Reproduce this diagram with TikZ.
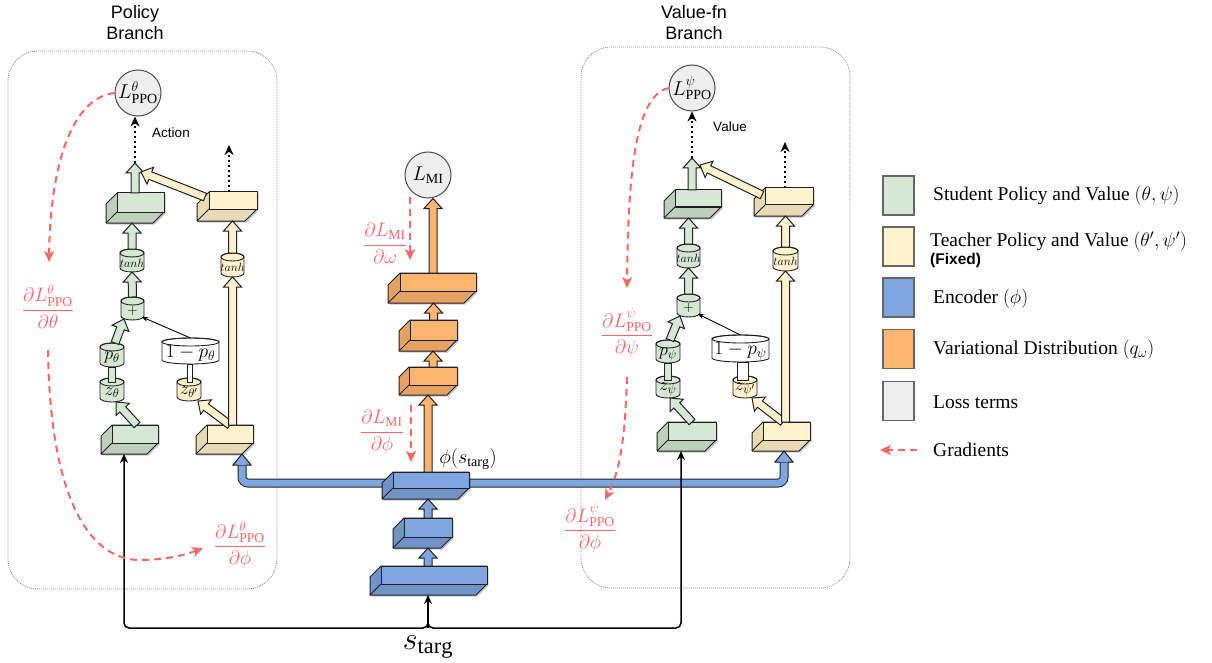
\RequirePackage{fix-cm}
\documentclass[tikz,border=0pt]{standalone}
\usepackage{fontspec}
\setmainfont{Liberation Serif}
\newfontfamily\sansfam{Liberation Sans}
\usetikzlibrary{arrows.meta,calc,fit}

\definecolor{grnL}{HTML}{D5E8D4}
\definecolor{grnD}{HTML}{BDD0BC}
\definecolor{ylwL}{HTML}{FFF2CC}
\definecolor{ylwD}{HTML}{E8DAB5}
\definecolor{bluL}{HTML}{7EA6E0}
\definecolor{bluD}{HTML}{7094C8}
\definecolor{orgL}{HTML}{FFB570}
\definecolor{orgD}{HTML}{E6A263}
\definecolor{lossF}{HTML}{EEEEEE}
\definecolor{gradR}{HTML}{FF6666}
\definecolor{edge}{HTML}{1F1F1F}

\tikzset{
  blockline/.style={draw=edge, line width=1pt, line join=miter},
  cylline/.style={draw=edge, line width=0.9pt},
  boxedge/.style={draw=edge, line width=1pt, line join=round},
  losscirc/.style={circle, draw=black!70, fill=lossF, line width=1pt, minimum size=46pt,
    inner sep=0pt, font=\fontsize{20}{22}\selectfont},
  dotarrow/.style={line width=2pt, dash pattern=on 2pt off 3pt, -{Stealth[length=10pt,width=9pt]}},
  gradarrow/.style={gradR, line width=2pt, dash pattern=on 7pt off 5pt,
    -{Stealth[length=11pt,width=10pt,inset=3pt]}},
  gradlabel/.style={text=gradR, inner sep=0pt, font=\fontsize{19.5}{22}\selectfont},
  inarrow/.style={line width=1.5pt, rounded corners=5pt, -{Stealth[length=9pt,width=8pt]}},
  thinarrow/.style={line width=0.9pt, -{Stealth[length=6pt,width=5pt]}},
  branchbox/.style={draw=black!45, line width=0.8pt, dash pattern=on 1pt off 1pt,
    rounded corners=30pt, inner sep=0pt},
  sanslabel/.style={font=\sansfam\fontsize{13.5}{16}\selectfont},
  titlelabel/.style={align=center, font=\sansfam\fontsize{18}{21}\selectfont},
  legsq/.style={draw=black!60, line width=1.2pt, minimum width=31pt, minimum height=39pt, inner sep=0pt},
  legtext/.style={anchor=west, inner sep=0pt, font=\fontsize{19.5}{22}\selectfont},
  cyllabel/.style={inner sep=0pt, font=\fontsize{18}{20}\selectfont},
}

% 3D layer block: back face (#2,#3)-(#4,#5), depth #6 towards lower left, colour stem #7
\newcommand\cubebox[7]{%
  \node[inner sep=0pt, outer sep=0pt, fit={(#2,#3) (#4,#5)}] (#1) {};
  \coordinate (#1-bot) at ({(#2+#4)/2-#6},{#5+#6});
  \fill[black, opacity=.22] (#2+1.5,#3+1.5) -- (#4+1.5,#3+1.5) -- (#4+1.5,#5+1.5)
    -- (#4-#6+1.5,#5+#6+1.5) -- (#2-#6+1.5,#5+#6+1.5) -- (#2-#6+1.5,#3+#6+1.5) -- cycle;
  \filldraw[boxedge, fill=#7D] (#2,#3) -- (#4,#3) -- (#4,#5) -- (#4-#6,#5+#6)
    -- (#2-#6,#5+#6) -- (#2-#6,#3+#6) -- cycle;
  \filldraw[boxedge, fill=#7L] (#2,#3) rectangle (#4,#5);
  \draw[boxedge] (#2,#5) -- (#2-#6,#5+#6);
}

% cylinder: name, centre x, centre y, width, height, fill, label
\newcommand\cylnode[7]{%
  \node[inner sep=0pt, outer sep=0pt, minimum width=#4pt, minimum height=#5pt] (#1) at (#2,#3) {};
  \pgfmathsetmacro\cylrx{#4/2}%
  \filldraw[cylline, fill=#6] ([yshift=-4pt]#1.north west) -- ([yshift=4pt]#1.south west)
    arc[start angle=180, end angle=360, x radius=\cylrx pt, y radius=4pt]
    -- ([yshift=-4pt]#1.north east)
    arc[start angle=0, end angle=180, x radius=\cylrx pt, y radius=4pt] -- cycle;
  \draw[cylline] ([yshift=-4pt]#1.north) ellipse[x radius=\cylrx pt, y radius=4pt];
  \node[cyllabel] at ([yshift=-2.5pt]#1.center) {#7};
}

% wide arrow from #1 to #2, filled with #3
\newcommand\blockarrow[3]{%
  \path let \p1=(#1), \p2=(#2) in \pgfextra{%
    \pgfmathsetmacro\baang{atan2(\y2-\y1,\x2-\x1)}%
    \pgfmathsetmacro\balen{veclen(\x2-\x1,\y2-\y1)}%
    \pgfmathsetmacro\bax{\x1}\pgfmathsetmacro\bay{\y1}%
    \xdef\gbang{\baang}\xdef\gblen{\balen}\xdef\gbx{\bax}\xdef\gby{\bay}};
  \filldraw[blockline, fill=#3, shift={(\gbx pt,\gby pt)}, rotate=\gbang]
    (0pt,-4pt) -- ({\gblen pt-10pt},-4pt) -- ({\gblen pt-10pt},-9pt) -- (\gblen pt,0pt)
    -- ({\gblen pt-10pt},9pt) -- ({\gblen pt-10pt},4pt) -- (0pt,4pt) -- cycle;
}

% short bar joining two stacked cylinders
\newcommand\linkbar[3]{%
  \filldraw[blockline, fill=#3] ([xshift=-3.5pt]#1) rectangle ([xshift=3.5pt,yshift=-4pt]#2);
}

% arrow head closing the encoder bus
\newcommand\bushead[2]{%
  \filldraw[blockline, fill=#2] ($(#1)+(-4,11)$) -- ($(#1)+(-9,11)$) -- (#1)
    -- ($(#1)+(9,11)$) -- ($(#1)+(4,11)$);
}

\begin{document}
\begin{tikzpicture}[x=1pt, y=-1pt]
\useasboundingbox (0,0) rectangle (1212,663);

% ---------- branch frames and titles ----------
\node[branchbox, fit={(8,51) (277,589)}] (polframe) {};
\node[branchbox, fit={(581,47) (850,588)}] (valframe) {};
\node[titlelabel] (poltitle) at (135,23) {Policy\\Branch};
\node[titlelabel] (valtitle) at (694,23) {Value-fn\\Branch};

% ---------- loss terms ----------
\node[losscirc] (lp) at (138,93) {$L^{\theta}_{\mathrm{PPO}}$};
\node[losscirc] (lv) at (692,88) {$L^{\psi}_{\mathrm{PPO}}$};
\node[losscirc] (lmi) at (428,175) {$L_{\mathrm{MI}}$};

% ---------- blocks ----------
\cubebox{pg1}{117}{193}{164}{212}{11}{grn}
\cubebox{py1}{209}{192}{257}{209}{12}{ylw}
\cubebox{pg2}{112}{425}{158}{443}{11}{grn}
\cubebox{py2}{207}{425}{253}{443}{11}{ylw}
\cubebox{vg1}{675}{190}{721}{207}{11}{grn}
\cubebox{vy1}{765}{188}{813}{205}{11}{ylw}
\cubebox{vg2}{668}{422}{716}{440}{11}{grn}
\cubebox{vy2}{763}{422}{810}{440}{11}{ylw}
\cubebox{o1}{400}{273}{476}{291}{12}{org}
\cubebox{o2}{410}{320}{457}{340}{11}{org}
\cubebox{o3}{409}{367}{457}{385}{10}{org}

% encoder bus feeding both teacher branches
\coordinate (busL) at (242,483);
\coordinate (busR) at (784,483);
\draw[line width=9pt, edge, rounded corners=6pt] ($(busL |- py2-bot)+(0,11)$) -- (busL) -- (busR) -- ($(busR |- vy2-bot)+(0,11)$);
\draw[line width=7pt, bluL, rounded corners=6pt] ($(busL |- py2-bot)+(0,11.5)$) -- (busL) -- (busR) -- ($(busR |- vy2-bot)+(0,11.5)$);
\bushead{busL |- py2-bot}{bluL}
\bushead{busR |- vy2-bot}{bluL}

\cubebox{e1}{393}{472}{469}{488}{11}{blu}
\cubebox{e2}{404}{518}{452}{537}{11}{blu}
\cubebox{e3}{381}{566}{487}{584}{11}{blu}

% ---------- cylinders ----------
\cylnode{ptanh}{132}{260.5}{24}{23}{grnL}{\fontsize{12}{13}\selectfont$tanh$}
\cylnode{pytanh}{232.5}{265}{23}{24}{ylwL}{\fontsize{12}{13}\selectfont$tanh$}
\cylnode{pplus}{132.5}{308.5}{23}{23}{grnL}{\fontsize{14}{15}\selectfont$+$}
\cylnode{pp}{112}{355}{24}{24}{grnL}{$p_{\theta}$}
\cylnode{pz}{112}{390}{24}{24}{grnL}{$z_{\theta}$}
\cylnode{pomp}{190.5}{351}{57}{26}{white}{\fontsize{19.5}{21}\selectfont$1-p_{\theta}$}
\cylnode{pzt}{189}{389.5}{24}{23}{ylwL}{$z_{\theta'}$}

\cylnode{vtanh}{688.5}{256}{23}{24}{grnL}{\fontsize{12}{13}\selectfont$tanh$}
\cylnode{vytanh}{785.5}{259}{25}{24}{ylwL}{\fontsize{12}{13}\selectfont$tanh$}
\cylnode{vplus}{688.5}{305.5}{23}{23}{grnL}{\fontsize{14}{15}\selectfont$+$}
\cylnode{vp}{668}{351.5}{24}{23}{grnL}{$p_{\psi}$}
\cylnode{vz}{668}{387}{24}{22}{grnL}{$z_{\psi}$}
\cylnode{vomp}{740.5}{348.5}{57}{27}{white}{\fontsize{19.5}{21}\selectfont$1-p_{\psi}$}
\cylnode{vzt}{745}{387}{24}{22}{ylwL}{$z_{\psi'}$}

\linkbar{pp.south}{pz.north}{grnL}
\linkbar{pomp.south}{pzt.north}{white}
\linkbar{vp.south}{vz.north}{grnL}
\linkbar{vomp.south}{vzt.north}{white}

% ---------- policy branch connectors ----------
\coordinate (pout) at (135,163);
\coordinate (pyout) at (229,145);
\blockarrow{pout |- pg1.north}{pout}{grnL}
\draw[dotarrow] (pout) -- (pout |- lp.south);
\blockarrow{[shift={(-4pt,-5pt)}]py1.north west}{[shift={(6pt,-9pt)}]pout}{ylwL}
\draw[dotarrow] (pyout |- py1.north) -- (pyout);
\blockarrow{ptanh.north}{ptanh.north |- pg1-bot}{grnL}
\blockarrow{pplus.north}{ptanh.south}{grnL}
\blockarrow{[xshift=3pt]pp.north}{[shift={(3pt,1pt)}]pplus.south west}{grnL}
\blockarrow{[xshift=2pt]pg2.north}{[xshift=4pt]pz.south}{grnL}
\draw[thinarrow] (pomp.north) -- ([shift={(-2pt,3pt)}]pplus.south east);
\blockarrow{py2.north}{[xshift=9pt]pzt.south}{ylwL}
\blockarrow{pytanh.south |- py2.north}{pytanh.south}{ylwL}
\blockarrow{pytanh.north}{pytanh.north |- py1-bot}{ylwL}

% ---------- value branch connectors ----------
\coordinate (vout) at (692,158);
\coordinate (vyout) at (785,142);
\blockarrow{vout |- vg1.north}{vout}{grnL}
\draw[dotarrow] (vout) -- (vout |- lv.south);
\blockarrow{[shift={(-3pt,-7pt)}]vy1.north west}{[shift={(8pt,-7pt)}]vout}{ylwL}
\draw[dotarrow] (vyout |- vy1.north) -- (vyout);
\blockarrow{vtanh.north}{vtanh.north |- vg1-bot}{grnL}
\blockarrow{vplus.north}{vtanh.south}{grnL}
\blockarrow{[xshift=2pt]vp.north}{[shift={(3pt,1pt)}]vplus.south west}{grnL}
\blockarrow{vg2.north}{[xshift=2pt]vz.south}{grnL}
\draw[thinarrow] (vomp.north) -- ([shift={(-2pt,3pt)}]vplus.south east);
\blockarrow{[xshift=-3.5pt]vy2.north}{[xshift=7pt]vzt.south}{ylwL}
\blockarrow{vytanh.south |- vy2.north}{vytanh.south}{ylwL}
\blockarrow{vytanh.north}{vytanh.north |- vy1-bot}{ylwL}

% ---------- encoder and variational head ----------
\coordinate (eo) at ($(e1.north)+(-3,0)$);
\coordinate (ee) at ($(e3.north)+(-6,0)$);
\blockarrow{$(o1.north)+(-5,0)$}{$(lmi.south)+(5,0)$}{orgL}
\blockarrow{o2.north}{o2.north |- o1-bot}{orgL}
\blockarrow{o3.north}{o3.north |- o2-bot}{orgL}
\blockarrow{eo}{eo |- o3-bot}{orgL}
\blockarrow{e2.north}{e2.north |- e1-bot}{bluL}
\blockarrow{ee}{ee |- e2-bot}{bluL}

\node[inner sep=0pt, font=\fontsize{20}{22}\selectfont] (phis) at (468,459) {$\phi(s_{\mathrm{targ}})$};

% ---------- input state ----------
\coordinate (sroot) at (428,628);
\node[inner sep=0pt, font=\fontsize{32}{35}\selectfont] (starg) at (428,647) {$s_{\mathrm{targ}}$};
\draw[inarrow] ($(sroot)+(0,-6)$) -- (sroot) -| (pg2-bot);
\draw[inarrow] ($(sroot)+(0,-6)$) -- (sroot) -| (vg2-bot);
\draw[inarrow] (sroot) -- (sroot |- e3-bot);

% ---------- labels ----------
\node[sanslabel] (act) at (171,133) {Action};
\node[sanslabel] (val) at (730,127) {Value};

% ---------- gradient flow ----------
\node[gradlabel] (gpt) at (48,307) {$\displaystyle\frac{\partial L^{\theta}_{\mathrm{PPO}}}{\partial\theta}$};
\node[gradlabel] (gpf) at (240,545) {$\displaystyle\frac{\partial L^{\theta}_{\mathrm{PPO}}}{\partial\phi}$};
\node[gradlabel] (gvp) at (627,333) {$\displaystyle\frac{\partial L^{\psi}_{\mathrm{PPO}}}{\partial\psi}$};
\node[gradlabel] (gvf) at (590,528) {$\displaystyle\frac{\partial L^{\psi}_{\mathrm{PPO}}}{\partial\phi}$};
\node[gradlabel] (gmo) at (385,243) {$\displaystyle\frac{\partial L_{\mathrm{MI}}}{\partial\omega}$};
\node[gradlabel] (gmf) at (382,432) {$\displaystyle\frac{\partial L_{\mathrm{MI}}}{\partial\phi}$};

\coordinate (gpt-in) at (49,262);
\coordinate (gpt-out) at (48,350);
\coordinate (gpf-in) at (203,548);
\coordinate (gvp-in) at (627,288);
\coordinate (gvp-out) at (627,377);
\coordinate (gvf-in) at (605,500);
\draw[gradarrow] (lp.west) .. controls (70,98) and (50,170) .. (gpt-in);
\draw[gradarrow] (gpt-out) .. controls (50,500) and (90,560) .. (140,560)
  .. controls (165,560) and (185,555) .. (gpf-in);
\draw[gradarrow] (lv.west) .. controls (640,95) and (628,150) .. (gvp-in);
\draw[gradarrow] (gvp-out) .. controls (625,440) and (620,470) .. (gvf-in);
\coordinate (gm1a) at (410,197);
\coordinate (gm1b) at (410,260);
\coordinate (gm2a) at (411,405);
\coordinate (gm2b) at (411,462);
\draw[gradarrow] (gm1a) -- (gm1b);
\draw[gradarrow] (gm2a) -- (gm2b);

% ---------- legend ----------
\node[legsq, fill=grnL] (lg1) at (898.5,195.5) {};
\node[legtext] (lt1) at (933,196) {Student Policy and Value $(\theta, \psi)$};
\node[legsq, fill=ylwL] (lg2) at (898.5,246.5) {};
\node[legtext] (lt2) at (930,242) {Teacher Policy and Value $(\theta', \psi')$};
\node[anchor=west, inner sep=0pt, font=\sansfam\bfseries\fontsize{15.5}{18}\selectfont] (lt2b) at (930,260) {(Fixed)};
\node[legsq, fill=bluL] (lg3) at (898.5,297.5) {};
\node[legtext] (lt3) at (933,299) {Encoder $(\phi)$};
\node[legsq, fill=orgL] (lg4) at (898.5,349) {};
\node[legtext] (lt4) at (933,350) {Variational Distribution $(q_{\omega})$};
\node[legsq, fill=lossF] (lg5) at (898.5,401) {};
\node[legtext] (lt5) at (933,402) {Loss terms};
\coordinate (lgA) at (917,450);
\coordinate (lgB) at (880,450);
\draw[gradarrow] (lgA) -- (lgB);
\node[legtext] (lt6) at (933,450) {Gradients};
\end{tikzpicture}
\end{document}
